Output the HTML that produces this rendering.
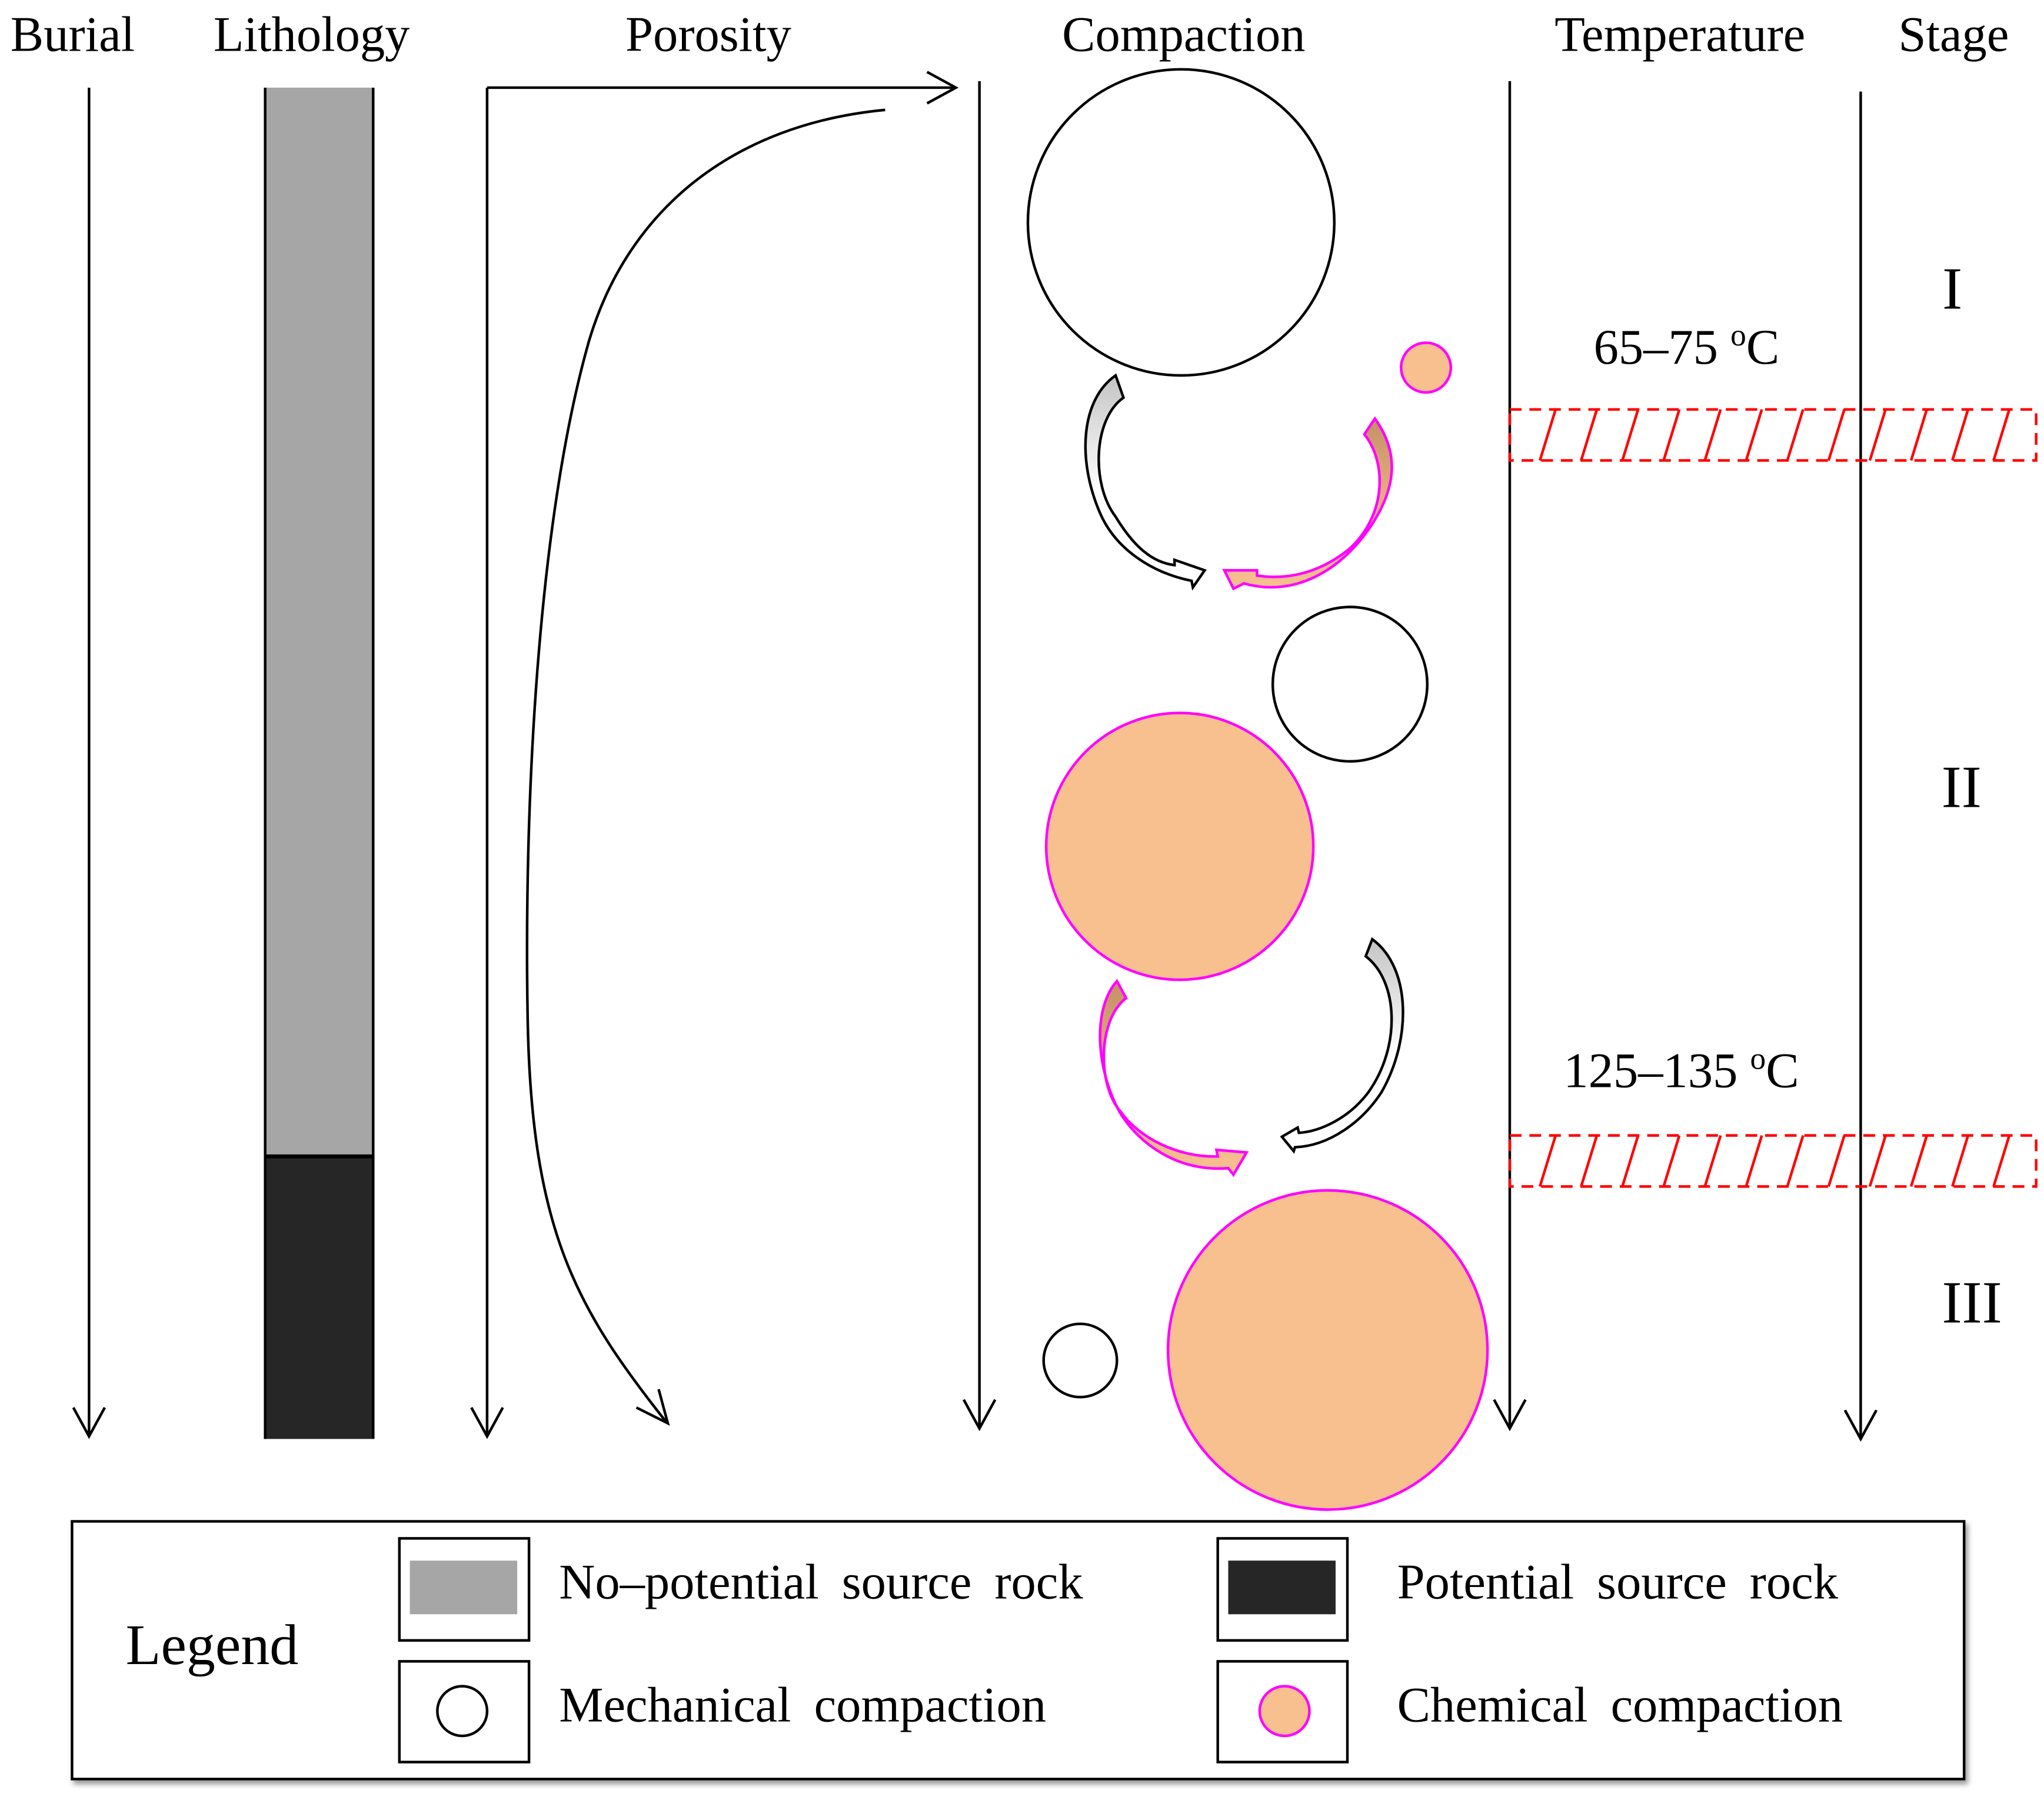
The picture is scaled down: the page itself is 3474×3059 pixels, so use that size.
<!DOCTYPE html>
<html><head><meta charset="utf-8"><style>
html,body{margin:0;padding:0;background:#fff;}
svg{display:block;}
text{font-family:"Liberation Serif",serif;fill:#000;}
</style></head><body>
<svg width="3474" height="3059" viewBox="0 0 1561 1376" preserveAspectRatio="none" xmlns="http://www.w3.org/2000/svg">
<defs>
<linearGradient id="gw" x1="0" y1="0" x2="0" y2="1"><stop offset="0" stop-color="#c4c4c4"/><stop offset="0.55" stop-color="#fff"/><stop offset="1" stop-color="#fff"/></linearGradient>
<linearGradient id="gp" x1="0" y1="0" x2="0" y2="1"><stop offset="0" stop-color="#c49068"/><stop offset="0.5" stop-color="#e8b080"/><stop offset="1" stop-color="#f8c090"/></linearGradient>
<filter id="sh" x="-5%" y="-5%" width="110%" height="120%"><feDropShadow dx="2" dy="3" stdDeviation="2" flood-color="#999"/></filter>
</defs>
<g font-size="38">
<text x="8" y="39">Burial</text>
<text x="238" y="39" text-anchor="middle">Lithology</text>
<text x="541" y="39" text-anchor="middle">Porosity</text>
<text x="904" y="39" text-anchor="middle">Compaction</text>
<text x="1283" y="39" text-anchor="middle">Temperature</text>
<text x="1492" y="39" text-anchor="middle">Stage</text>
</g>
<g stroke="#000" stroke-width="2" fill="none">
<line x1="68" y1="67" x2="68" y2="1098"/><polyline points="56,1076 68,1098 80,1076"/>
<line x1="372" y1="67" x2="372" y2="1098"/><polyline points="360,1076 372,1098 384,1076"/>
<line x1="372" y1="67" x2="730" y2="67"/><polyline points="708,55 730,67 708,79"/>
<path d="M676,84 C560,95 480,160 450,260 C410,400 400,620 403,780 C406,940 440,1000 508,1086"/>
<polyline points="486,1076 510,1088 503,1062"/>
<line x1="748" y1="62" x2="748" y2="1092"/><polyline points="736,1070 748,1092 760,1070"/>
<line x1="1153" y1="62" x2="1153" y2="1092"/><polyline points="1141,1070 1153,1092 1165,1070"/>
<line x1="1421" y1="70" x2="1421" y2="1100"/><polyline points="1409,1078 1421,1100 1433,1078"/>
</g>
<rect x="202" y="67" width="83" height="817" fill="#a6a6a6"/>
<rect x="202" y="884" width="83" height="216" fill="#262626"/>
<line x1="202" y1="884" x2="285" y2="884" stroke="#000" stroke-width="3"/>
<line x1="202.5" y1="67" x2="202.5" y2="1100" stroke="#000" stroke-width="2"/>
<line x1="285" y1="67" x2="285" y2="1100" stroke="#000" stroke-width="2"/>
<!-- circles -->
<circle cx="902" cy="170" r="117" fill="#fff" stroke="#000" stroke-width="2"/>
<circle cx="1089" cy="281" r="19" fill="#f8c08e" stroke="#ff00ff" stroke-width="2"/>
<circle cx="1031" cy="523" r="59" fill="#fff" stroke="#000" stroke-width="2"/>
<circle cx="901" cy="647" r="102" fill="#f8c08e" stroke="#ff00ff" stroke-width="2"/>
<circle cx="825" cy="1040" r="28" fill="#fff" stroke="#000" stroke-width="2"/>
<circle cx="1014" cy="1032" r="122" fill="#f8c08e" stroke="#ff00ff" stroke-width="2"/>
<!-- curved arrows -->
<path d="M852,287 L858,304 C835,320 833,370 852,395 C866,418 880,430 897,432 L897,428 L920,436 L911,449 L910,444 C880,438 852,420 840,392 C822,350 826,305 852,287 Z" fill="url(#gw)" stroke="#000" stroke-width="2"/>
<path d="M1050,320 L1042,332 C1060,355 1058,395 1030,420 C1005,440 980,443 960,440 L960,436 L935,436 L942,450 L950,446 C985,456 1020,440 1045,405 C1068,372 1068,345 1050,320 Z" fill="url(#gp)" stroke="#ff00ff" stroke-width="2"/>
<path d="M853,750 L860,763 C838,780 838,830 856,850 C870,870 900,885 930,884 L929,879 L952,881 L942,898 L938,893 C900,896 870,875 855,850 C836,815 835,770 853,750 Z" fill="url(#gp)" stroke="#ff00ff" stroke-width="2"/>
<path d="M1048,718 L1043,731 C1068,750 1070,800 1045,835 C1030,855 1008,865 992,866 L991,862 L979,869 L988,880 L989,877 C1015,876 1040,858 1055,835 C1078,795 1078,740 1048,718 Z" fill="url(#gw)" stroke="#000" stroke-width="2"/>
<!-- hatched bands -->
<g stroke="#ff0000" stroke-width="2" fill="none">
<rect x="1153" y="313" width="402" height="39" stroke-dasharray="9,6"/>
<rect x="1153" y="868" width="402" height="39" stroke-dasharray="9,6"/>
<g id="hl">
<line x1="1188" y1="313" x2="1176" y2="352"/><line x1="1219.5" y1="313" x2="1207.5" y2="352"/><line x1="1251" y1="313" x2="1239" y2="352"/><line x1="1282.5" y1="313" x2="1270.5" y2="352"/><line x1="1314" y1="313" x2="1302" y2="352"/><line x1="1345.5" y1="313" x2="1333.5" y2="352"/><line x1="1377" y1="313" x2="1365" y2="352"/><line x1="1408.5" y1="313" x2="1396.5" y2="352"/><line x1="1440" y1="313" x2="1428" y2="352"/><line x1="1471.5" y1="313" x2="1459.5" y2="352"/><line x1="1503" y1="313" x2="1491" y2="352"/><line x1="1534.5" y1="313" x2="1522.5" y2="352"/>
</g>
<use href="#hl" y="555"/>
</g>
<g font-size="38">
<text x="1288" y="278" text-anchor="middle">65–75 <tspan font-size="24" dy="-14">o</tspan><tspan dy="14">C</tspan></text>
<text x="1284" y="831" text-anchor="middle">125–135 <tspan font-size="24" dy="-14">o</tspan><tspan dy="14">C</tspan></text>
</g>
<g font-size="46">
<text x="1491" y="236" text-anchor="middle">I</text>
<text x="1498" y="617" text-anchor="middle">II</text>
<text x="1506" y="1011" text-anchor="middle">III</text>
</g>
<!-- legend -->
<rect x="55" y="1163" width="1445" height="197" fill="#fff" stroke="#000" stroke-width="2" filter="url(#sh)"/>
<text x="96" y="1272" font-size="44">Legend</text>
<g stroke="#000" stroke-width="2" fill="#fff">
<rect x="305" y="1176" width="99" height="78"/>
<rect x="305" y="1270" width="99" height="77"/>
<rect x="930" y="1176" width="99" height="78"/>
<rect x="930" y="1270" width="99" height="77"/>
</g>
<rect x="313" y="1193" width="82" height="41" fill="#a6a6a6"/>
<rect x="938" y="1193" width="82" height="41" fill="#262626"/>
<circle cx="353" cy="1308" r="19" fill="#fff" stroke="#000" stroke-width="2"/>
<circle cx="981" cy="1308" r="19" fill="#f8c08e" stroke="#ff00ff" stroke-width="2"/>
<g font-size="38" word-spacing="8">
<text x="427" y="1222">No–potential source rock</text>
<text x="427" y="1316">Mechanical compaction</text>
<text x="1067" y="1222">Potential source rock</text>
<text x="1067" y="1316">Chemical compaction</text>
</g>
</svg>
</body></html>
